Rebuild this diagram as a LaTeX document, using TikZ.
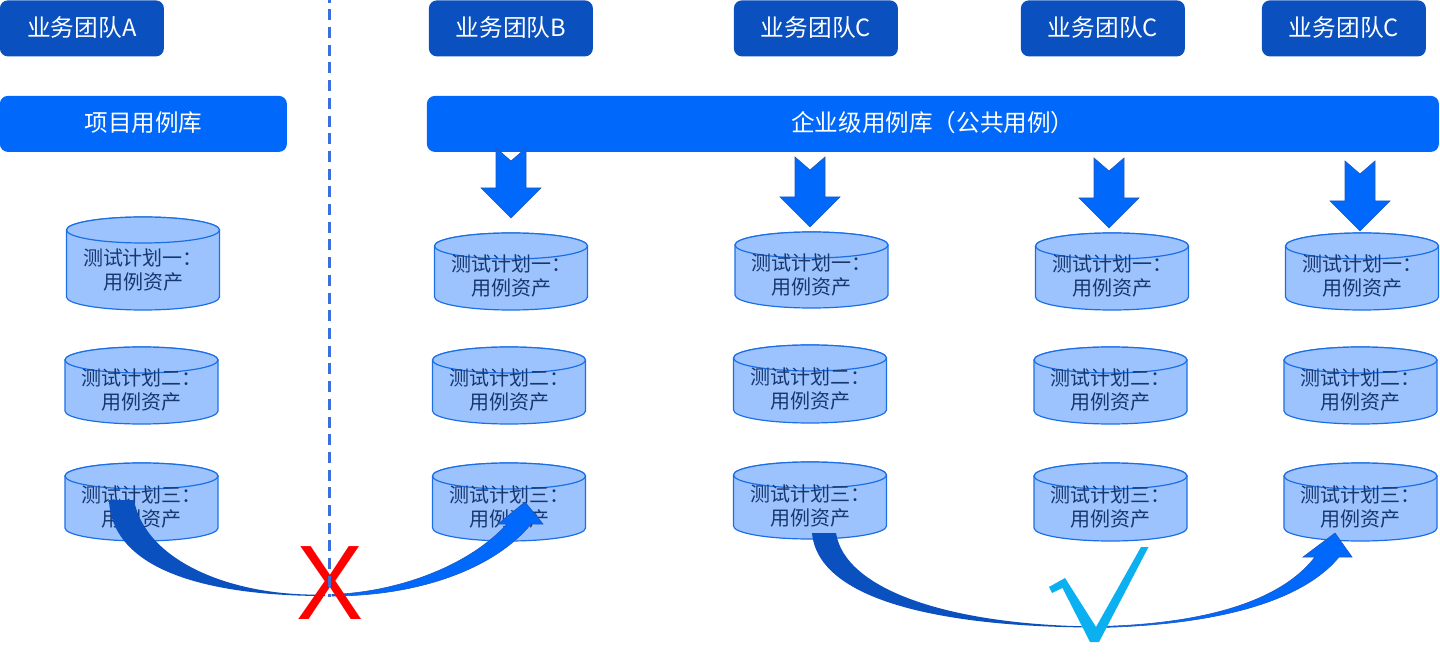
\documentclass[tikz,border=0pt]{standalone}
\usepackage{fontspec}
\setmainfont{Noto Sans CJK SC}
\newfontfamily\latinsans{Liberation Sans}
\definecolor{teamblue}{HTML}{0A50BE}
\definecolor{barblue}{HTML}{0068FA}
\definecolor{cylfill}{HTML}{9DC3FF}
\definecolor{cylline}{HTML}{1A6FE6}
\definecolor{cyltext}{HTML}{17386E}
\definecolor{arrowedge}{HTML}{1F58C0}
\definecolor{dashblue}{HTML}{3A6FDC}
\definecolor{checkcyan}{HTML}{0AB0F0}
\tikzset{
  team/.style={fill=teamblue,rounded corners=4pt,text=white,font=\fontsize{11.85}{13}\selectfont,inner sep=0pt,anchor=north west,minimum height=28pt,text depth=1.5pt},
  lib/.style={fill=barblue,rounded corners=4pt,text=white,font=\fontsize{11.8}{13}\selectfont,inner sep=0pt,anchor=north west,minimum height=28pt,text depth=2.8pt},
  cylbody/.style={fill=cylfill,draw=cylline,line width=0.6pt},
  cyllabel/.style={text=cyltext,font=\fontsize{10}{12}\selectfont,align=center,inner sep=0pt},
  downarrow/.style={fill=barblue,draw=arrowedge,line width=0.3pt,line join=miter},
  darkband/.style={fill=teamblue,draw=none},
  lightband/.style={fill=barblue,draw=arrowedge,line width=0.3pt,line join=miter},
}
% name, cx, top, bottom, text centre y, first line
\newcommand{\cylnode}[6]{%
  \draw[cylbody] (#2-76.5,#3+13) -- (#2-76.5,#4-13) arc[start angle=180,end angle=360,x radius=38.25pt,y radius=6.5pt]
     -- (#2+76.5,#3+13) arc[start angle=0,end angle=180,x radius=38.25pt,y radius=6.5pt] -- cycle;
  \draw[cylbody] (#2,#3+13) ellipse[x radius=38.25pt,y radius=6.5pt];
  \node[cyllabel] (#1) at (#2,#5) {#6：\\用例资产};
}
% name, cx, notch-top y, tip y
\newcommand{\downarr}[4]{%
  \coordinate (#1) at (#2,#4);
  \draw[downarrow] (#2-15,#3) -- (#2,#3+13) -- (#2+15,#3) -- (#2+15,#3+40) -- (#2+30,#3+40) -- (#1) -- (#2-30,#3+40) -- (#2-15,#3+40) -- cycle;
}
\begin{document}
\begin{tikzpicture}[x=0.5pt,y=-0.5pt]
\useasboundingbox (0,0) rectangle (1440,668);
% team boxes
\node[team,minimum width=82pt] (ta) at (-0.5,0) {业务团队A};
\node[team,minimum width=82pt] (tb) at (428.5,0) {业务团队B};
\node[team,minimum width=82pt] (tc) at (733.5,0) {业务团队C};
\node[team,minimum width=82pt] (td) at (1020.5,0) {业务团队C};
\node[team,minimum width=82pt] (te) at (1261.5,0) {业务团队C};
% libraries
\node[lib,minimum width=143.5pt] (pl) at (-0.5,95.5) {项目用例库};
\node[lib,minimum width=506pt] (el) at (426.5,95.5) {企业级用例库（公共用例）};
% cylinders
\cylnode{a1}{143}{217}{310}{270}{测试计划一}
\cylnode{a2}{141.5}{347}{424}{390}{测试计划二}
\cylnode{a3}{141.5}{463}{541}{507}{测试计划三}
\cylnode{b1}{511}{233}{310}{276}{测试计划一}
\cylnode{b2}{509}{347}{424}{390}{测试计划二}
\cylnode{b3}{509}{463}{541}{507}{测试计划三}
\cylnode{c1}{811.5}{232}{308}{275}{测试计划一}
\cylnode{c2}{810}{345}{423}{388.5}{测试计划二}
\cylnode{c3}{810}{462}{539}{505.5}{测试计划三}
\cylnode{d1}{1112}{233}{310}{276}{测试计划一}
\cylnode{d2}{1110.5}{347}{424}{390}{测试计划二}
\cylnode{d3}{1110.5}{463}{541}{507}{测试计划三}
\cylnode{e1}{1362}{233}{310}{276}{测试计划一}
\cylnode{e2}{1360.5}{347}{424}{390}{测试计划二}
\cylnode{e3}{1360.5}{463}{541}{507}{测试计划三}
% down arrows
\downarr{ab}{511}{148}{218}
\downarr{ac}{810}{157}{227}
\downarr{ad}{1109}{158}{228}
\downarr{ae}{1360}{161}{231}
% curved arrows, left
\coordinate (xs) at (109,500);
\coordinate (xm) at (325,596);
\coordinate (xr) at (332,596);
\coordinate (xt) at (525,502);
\path[darkband] (xs) .. controls (112,575) and (220,596) .. (xm) -- (325,594.5)
  .. controls (230,597) and (145,560) .. (134,500) -- cycle;
\path[lightband] (xr) .. controls (420,596) and (495,568) .. (531,524) -- (543,524) -- (xt) -- (498,524) -- (507,524)
  .. controls (470,565) and (400,592) .. (332,594.5) -- cycle;
% curved arrows, right
\coordinate (vs) at (812,533);
\coordinate (vm) at (1095,627.5);
\coordinate (vr) at (1100,627.5);
\coordinate (vt) at (1335,533);
\path[darkband] (vs) .. controls (818,600) and (940,627) .. (vm) -- (1095,626.5)
  .. controls (950,625) and (845,590) .. (836,533) -- cycle;
\path[lightband] (vr) .. controls (1210,625) and (1300,604) .. (1339,557) -- (1352,557) -- (vt) -- (1303,557) -- (1315,557)
  .. controls (1278,605) and (1195,624) .. (1100,626.5) -- cycle;
% marks
\node[text=red,inner sep=0pt,font=\latinsans\fontsize{53}{53}\selectfont,xscale=0.95] (cross) at (330,583.5) {X};
\draw[dashblue,line width=1.2pt,dash pattern=on 5.5pt off 3.35pt,dash phase=4.15pt] (329.5,0) -- (329.5,597);
\path[fill=checkcyan] (1049,587) -- (1065,578) -- (1096,627) -- (1141,547) -- (1148.5,547) -- (1099,642) -- (1090,642) -- (1062.5,588) -- (1052,593) -- cycle;
\end{tikzpicture}
\end{document}
